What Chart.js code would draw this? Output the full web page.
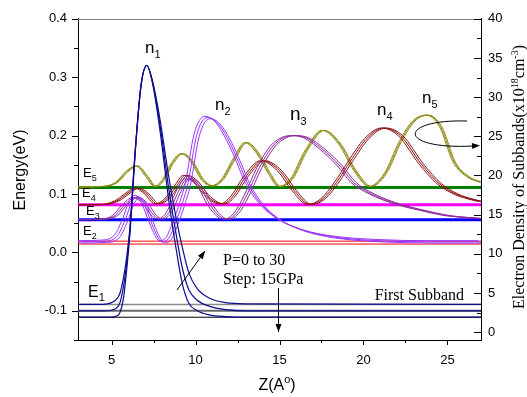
<!DOCTYPE html>
<html>
<head>
<meta charset="utf-8">
<script src="https://cdn.jsdelivr.net/npm/chart.js@4.4.1/dist/chart.umd.min.js"></script>
<style>
    html, body { margin: 0; padding: 0; background: #fff; }
</style>
</head>
<body>
<canvas id="chart" width="527" height="397"></canvas>
<script>
// ============================================
// DATA
// ============================================

const zTicks = [5, 10, 15, 20, 25];
const zMinorTicks = [7.5, 12.5, 17.5, 22.5];
const energyTicks = [-0.1, 0, 0.1, 0.2, 0.3, 0.4];
const energyMinorTicks = [-0.15, -0.05, 0.05, 0.15, 0.25, 0.35];
const densityTicks = [0, 5, 10, 15, 20, 25, 30, 35, 40];
const densityMinorTicks = [2.5, 7.5, 12.5, 17.5, 22.5, 27.5, 32.5, 37.5];

// subband energy levels (eV)
const levelE1 = [-0.089, -0.1, -0.111];
const levelE2 = [0.0193, 0.0143];
const levelE3 = [0.056];
const levelE4 = [0.0815];
const levelE5 = [0.111];

// first subband, three pressures
const zN1 = [3, 4.5, 5.0, 5.3, 5.5, 5.7, 5.9, 6.1, 6.4, 6.75, 7.1, 7.45, 7.9, 8.4, 8.85, 9.2, 9.6, 10.1, 10.8, 11.8, 13, 27];
const n1P0 = [-0.089, -0.089, -0.086, -0.08, -0.07, -0.045, -0.008, 0.045, 0.172, 0.286, 0.32, 0.292, 0.225, 0.13, 0.058, 0.01, -0.035, -0.062, -0.078, -0.086, -0.088, -0.089];
const n1P15 = [-0.1, -0.1, -0.099, -0.095, -0.086, -0.06, -0.018, 0.04, 0.17, 0.285, 0.32, 0.29, 0.215, 0.11, 0.03, -0.025, -0.064, -0.082, -0.092, -0.098, -0.1, -0.1];
const n1P30 = [-0.111, -0.111, -0.111, -0.109, -0.103, -0.08, -0.03, 0.035, 0.168, 0.284, 0.32, 0.288, 0.205, 0.09, 0.005, -0.052, -0.087, -0.1, -0.107, -0.11, -0.111, -0.111];

// higher subbands (middle pressure) and the spread of the other pressures
const zN2 = [3, 4.5, 5.3, 5.8, 6.2, 6.55, 6.9, 7.3, 7.6, 8.0, 8.4, 8.8, 9.2, 9.55, 10.06, 10.7, 11.3, 12.0, 12.6, 13.1, 14.0, 15.0, 16.0, 17.0, 18.6, 21, 24, 27];
const eN2 = [0.018, 0.019, 0.027, 0.055, 0.086, 0.096, 0.085, 0.056, 0.035, 0.018, 0.024, 0.05, 0.083, 0.118, 0.2, 0.231, 0.222, 0.19, 0.152, 0.118, 0.08, 0.056, 0.042, 0.033, 0.025, 0.02, 0.018, 0.018];
const shiftZN2 = [-0.15, 0, 0.15];
const shiftEN2 = [0.002, 0, -0.002];

const zN3 = [3, 4.5, 5.2, 5.8, 6.4, 7.0, 7.5, 7.9, 8.4, 9.0, 9.5, 10.2, 10.9, 11.5, 11.9, 12.4, 13.0, 13.8, 14.6, 15.3, 15.9, 16.6, 17.5, 18.6, 19.4, 20.5, 22, 23.5, 25, 27];
const eN3 = [0.056, 0.057, 0.063, 0.082, 0.094, 0.084, 0.064, 0.057, 0.068, 0.105, 0.126, 0.115, 0.08, 0.06, 0.057, 0.066, 0.095, 0.145, 0.182, 0.197, 0.2, 0.196, 0.178, 0.148, 0.12, 0.1, 0.083, 0.072, 0.063, 0.058];
const shiftZN3 = [-0.15, 0, 0.15];

const zN4 = [3, 4.5, 5.3, 5.9, 6.5, 7.1, 7.7, 8.3, 8.9, 9.4, 10.0, 10.6, 11.2, 11.6, 12.2, 13.0, 14.0, 15.0, 15.9, 16.8, 17.6, 18.4, 19.2, 20.2, 21.2, 22.2, 23.45, 24.5, 25.5, 26.3, 27];
const eN4 = [0.0815, 0.082, 0.088, 0.1, 0.11, 0.1, 0.083, 0.092, 0.115, 0.132, 0.122, 0.1, 0.086, 0.083, 0.095, 0.13, 0.157, 0.14, 0.105, 0.082, 0.092, 0.12, 0.155, 0.195, 0.213, 0.2, 0.151, 0.118, 0.1, 0.092, 0.087];
const shiftZN4 = [-0.13, 0, 0.13];

const zN5 = [3, 4.5, 5.3, 5.9, 6.5, 7.1, 7.6, 8.1, 8.6, 9.2, 9.8, 10.4, 11.0, 11.6, 12.3, 13.0, 13.7, 14.4, 15.0, 15.7, 16.6, 17.6, 18.6, 19.5, 20.4, 21.3, 22.2, 23.0, 23.8, 24.6, 25.4, 26.2, 27];
const eN5 = [0.112, 0.113, 0.12, 0.138, 0.148, 0.13, 0.113, 0.125, 0.152, 0.169, 0.155, 0.125, 0.114, 0.125, 0.16, 0.188, 0.17, 0.135, 0.113, 0.125, 0.175, 0.209, 0.185, 0.14, 0.113, 0.135, 0.19, 0.225, 0.235, 0.215, 0.155, 0.13, 0.12];
const shiftZN5 = [-0.07, 0, 0.07];

// ============================================
// HELPERS
// ============================================

const SANS = '"Liberation Sans", Arial, Helvetica, sans-serif';
const SERIF = '"Liberation Serif", "Times New Roman", serif';

function toPoints(zs, es, dz = 0, de = 0) {
    const pts = [];
    for (let i = 0; i < zs.length; i++) {
        pts.push({ x: zs[i] + dz, y: es[i] + de });
    }
    return pts;
}

function curveSet(data, color, width) {
    return {
        data,
        borderColor: color,
        borderWidth: width,
        pointRadius: 0,
        fill: false,
        cubicInterpolationMode: 'monotone',
        order: 0,
        yAxisID: 'y'
    };
}

function levelSet(e, color, width) {
    return {
        data: [{ x: 3, y: e }, { x: 27, y: e }],
        borderColor: color,
        borderWidth: width,
        pointRadius: 0,
        fill: false,
        tension: 0,
        order: 1,
        yAxisID: 'y'
    };
}

const datasets = [];

datasets.push(curveSet(toPoints(zN1, n1P0), '#0c0c8c', 1.2));
datasets.push(curveSet(toPoints(zN1, n1P15), '#0c0c8c', 1.2));
datasets.push(curveSet(toPoints(zN1, n1P30), '#0c0c8c', 1.2));

for (let i = 0; i < 3; i++) {
    datasets.push(curveSet(toPoints(zN2, eN2, shiftZN2[i], shiftEN2[i]), '#9933ff', 1));
}
for (let i = 0; i < 3; i++) {
    datasets.push(curveSet(toPoints(zN3, eN3, shiftZN3[i]), '#902c9e', 1));
}
for (let i = 0; i < 3; i++) {
    datasets.push(curveSet(toPoints(zN4, eN4, shiftZN4[i]), '#8b1212', 1));
}
for (let i = 0; i < 3; i++) {
    datasets.push(curveSet(toPoints(zN5, eN5, shiftZN5[i]), '#8c8c14', 1));
}

const e1Colors = ['#8a8a8a', '#6a6a6a', '#000000'];
const e1Widths = [1.5, 2, 1];
levelE1.forEach((e, i) => datasets.push(levelSet(e, e1Colors[i], e1Widths[i])));
levelE2.forEach(e => datasets.push(levelSet(e, '#ff0000', 1)));
levelE3.forEach(e => datasets.push(levelSet(e, '#0000ff', 3)));
levelE4.forEach(e => datasets.push(levelSet(e, '#ff00ff', 3)));
levelE5.forEach(e => datasets.push(levelSet(e, '#008000', 3)));

// text with sub/superscript parts: [text, size, raise]
function drawRich(ctx, parts, x, y, family, align) {
    let total = 0;
    parts.forEach(p => {
        ctx.font = `${p[1]}px ${family}`;
        total += ctx.measureText(p[0]).width;
    });
    let cx = align === 'center' ? x - total / 2 : x;
    ctx.textAlign = 'left';
    ctx.textBaseline = 'alphabetic';
    parts.forEach(p => {
        ctx.font = `${p[1]}px ${family}`;
        ctx.fillText(p[0], cx, y - p[2]);
        cx += ctx.measureText(p[0]).width;
    });
}

function arrowHead(ctx, x, y, angle, len, half) {
    ctx.beginPath();
    ctx.moveTo(x, y);
    ctx.lineTo(x - len * Math.cos(angle) + half * Math.sin(angle), y - len * Math.sin(angle) - half * Math.cos(angle));
    ctx.lineTo(x - len * Math.cos(angle) - half * Math.sin(angle), y - len * Math.sin(angle) + half * Math.cos(angle));
    ctx.closePath();
    ctx.fill();
}

function arrow(ctx, x1, y1, x2, y2) {
    ctx.beginPath();
    ctx.moveTo(x1, y1);
    ctx.lineTo(x2, y2);
    ctx.stroke();
    arrowHead(ctx, x2, y2, Math.atan2(y2 - y1, x2 - x1), 8, 3);
}

// ============================================
// DECORATION PLUGIN
// ============================================

const decor = {
    id: 'decor',
    afterDraw(chart) {
        const { ctx, chartArea: a, scales } = chart;
        ctx.save();

        // top frame line
        ctx.strokeStyle = '#808080';
        ctx.lineWidth = 1;
        ctx.beginPath();
        ctx.moveTo(a.left, Math.round(a.top) + 0.5);
        ctx.lineTo(a.right, Math.round(a.top) + 0.5);
        ctx.stroke();

        // tick marks
        ctx.strokeStyle = '#000';
        const hTick = (scale, v, x0, x1) => {
            const y = Math.round(scale.getPixelForValue(v)) + 0.5;
            ctx.beginPath();
            ctx.moveTo(x0, y);
            ctx.lineTo(x1, y);
            ctx.stroke();
        };
        energyTicks.forEach(v => hTick(scales.y, v, a.left - 6, a.left));
        energyMinorTicks.forEach(v => hTick(scales.y, v, a.left - 4, a.left));
        densityTicks.forEach(v => hTick(scales.y2, v, a.right - 7, a.right));
        densityMinorTicks.forEach(v => hTick(scales.y2, v, a.right - 4, a.right));
        const vTick = (v, len) => {
            const x = Math.round(scales.x.getPixelForValue(v)) + 0.5;
            ctx.beginPath();
            ctx.moveTo(x, a.bottom);
            ctx.lineTo(x, a.bottom + len);
            ctx.stroke();
        };
        zTicks.forEach(v => vTick(v, 5));
        zMinorTicks.forEach(v => vTick(v, 3));

        ctx.fillStyle = '#000';

        // subband density labels
        const nLabel = (sub, x, y, size) => drawRich(ctx, [['n', size, 0], [sub, 11, -5]], x, y, SANS, 'left');
        nLabel('1', 145, 53, 17);
        nLabel('2', 215, 110, 17);
        nLabel('3', 290, 120, 19);
        nLabel('4', 377, 115, 17);
        nLabel('5', 422, 103, 17);

        // energy level labels
        const eLabel = (sub, x, y, size, subSize) => drawRich(ctx, [['E', size, 0], [sub, subSize, -4]], x, y, SANS, 'left');
        eLabel('5', 83, 177, 13, 9);
        eLabel('4', 82, 197, 13, 9);
        eLabel('3', 86, 215, 13, 9);
        eLabel('2', 83, 235, 13, 9);
        eLabel('1', 88, 297, 16, 11);

        // annotations
        ctx.font = `16px ${SERIF}`;
        ctx.textAlign = 'left';
        ctx.textBaseline = 'alphabetic';
        ctx.fillText('P=0 to 30', 223, 265);
        ctx.fillText('Step: 15GPa', 223, 284);
        ctx.textAlign = 'right';
        ctx.fillText('First Subband', 464, 300);

        // arrows
        ctx.lineWidth = 1;
        arrow(ctx, 177, 290, 205, 251);
        arrow(ctx, 278.5, 288, 278.5, 332);
        ctx.beginPath();
        ctx.moveTo(467, 121);
        ctx.bezierCurveTo(397, 119, 397, 150, 473, 146);
        ctx.stroke();
        arrowHead(ctx, 480, 145.6, Math.atan2(-0.4, 7), 8, 3);

        // axis titles
        drawRich(ctx, [['Z(A', 16, 0], ['o', 11, 7], [')', 16, 0]], 277, 390, SANS, 'center');

        ctx.save();
        ctx.translate(25, 170);
        ctx.rotate(-Math.PI / 2);
        drawRich(ctx, [['Energy(eV)', 16, 0]], 0, 0, SANS, 'center');
        ctx.restore();

        ctx.save();
        ctx.translate(524, 177);
        ctx.rotate(-Math.PI / 2);
        drawRich(ctx, [
            ['Electron Density of Subbands(x10', 16, 0],
            ['18', 10, 6],
            ['cm', 16, 0],
            ['-3', 10, 6],
            [')', 16, 0]
        ], 0, 0, SERIF, 'center');
        ctx.restore();

        ctx.restore();
    }
};

// ============================================
// CHART
// ============================================

const axisBase = {
    grid: { display: true, drawOnChartArea: false, drawTicks: false },
    border: { display: true, color: '#000', width: 1 }
};

new Chart(document.getElementById('chart').getContext('2d'), {
    type: 'line',
    data: { datasets },
    options: {
        responsive: false,
        animation: false,
        devicePixelRatio: 1,
        layout: { padding: { top: 13, left: 0, right: 0, bottom: 0 } },
        plugins: {
            legend: { display: false },
            tooltip: { enabled: false }
        },
        scales: {
            x: {
                ...axisBase,
                type: 'linear',
                position: 'bottom',
                min: 3,
                max: 27,
                afterBuildTicks(scale) {
                    scale.ticks = zTicks.map(v => ({ value: v }));
                },
                afterFit(scale) {
                    scale.height = 57;
                },
                ticks: {
                    color: '#000',
                    padding: 13,
                    maxRotation: 0,
                    font: { family: SANS, size: 13 }
                }
            },
            y: {
                ...axisBase,
                type: 'linear',
                position: 'left',
                min: -0.15,
                max: 0.4,
                afterBuildTicks(scale) {
                    scale.ticks = energyTicks.map(v => ({ value: v }));
                },
                afterFit(scale) {
                    scale.width = 78;
                },
                ticks: {
                    color: '#000',
                    padding: 11,
                    font: { family: SANS, size: 13 },
                    callback(value) {
                        return Number(value).toFixed(1);
                    }
                }
            },
            y2: {
                ...axisBase,
                type: 'linear',
                position: 'right',
                min: -1,
                max: 40,
                afterBuildTicks(scale) {
                    scale.ticks = densityTicks.map(v => ({ value: v }));
                },
                afterFit(scale) {
                    scale.width = 46;
                },
                ticks: {
                    color: '#000',
                    padding: 7,
                    font: { family: SANS, size: 13 }
                }
            }
        }
    },
    plugins: [decor]
});
</script>
</body>
</html>
